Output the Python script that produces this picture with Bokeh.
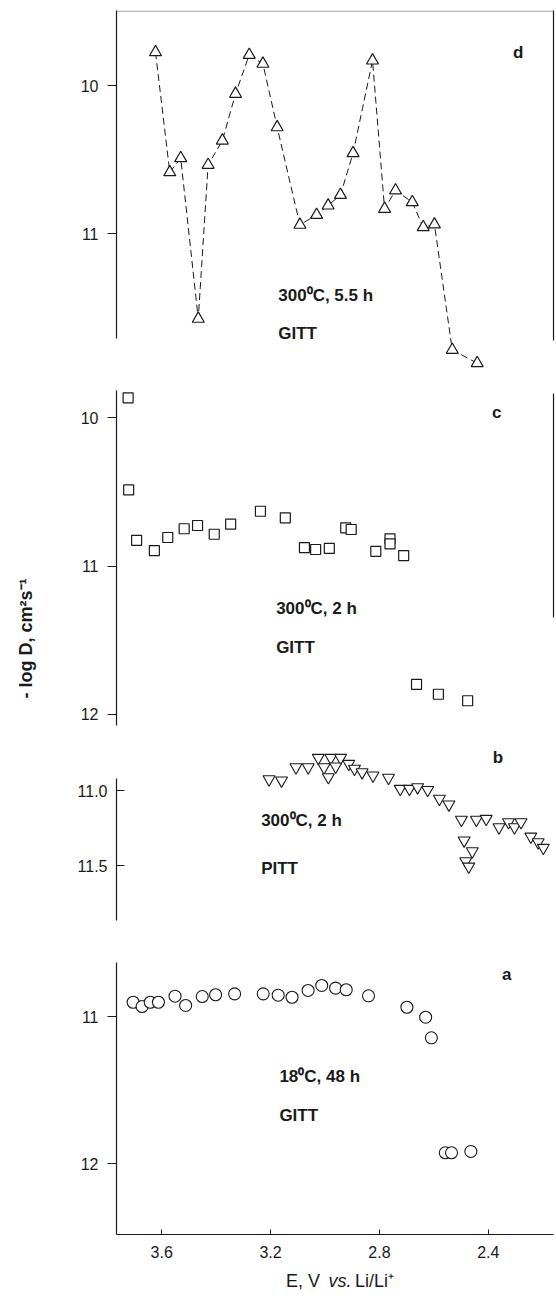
from bokeh.plotting import figure
from bokeh.layouts import column, row
from bokeh.models import Range1d, FixedTicker, LinearAxis, Label, Span
from bokeh.embed import file_html
from bokeh.resources import INLINE
import math

# ---------------- data ----------------
x_ticks = [3.6, 3.2, 2.8, 2.4]
x_tick_labels = ["3.6", "3.2", "2.8", "2.4"]

# panel d : 300 C, 5.5 h, GITT
d_E = [3.597, 3.545, 3.505, 3.441, 3.405, 3.353, 3.305, 3.255, 3.205, 3.153, 3.070, 3.009,
       2.967, 2.922, 2.876, 2.805, 2.761, 2.721, 2.660, 2.620, 2.579, 2.514, 2.423]
d_logD = [9.775, 10.586, 10.491, 11.576, 10.536, 10.372, 10.056, 9.793, 9.853, 10.282, 10.941, 10.874,
          10.811, 10.739, 10.457, 9.831, 10.833, 10.709, 10.788, 10.957, 10.939, 11.786, 11.876]
d_ticks = [10, 11]
d_tick_labels = ["10", "11"]

# panel c : 300 C, 2 h, GITT
c_E = [3.709, 3.707, 3.678, 3.613, 3.564, 3.504, 3.455, 3.394, 3.334, 3.225, 3.134, 3.064,
       3.023, 2.973, 2.913, 2.893, 2.803, 2.751, 2.751, 2.701, 2.654, 2.574, 2.467]
c_logD = [9.865, 10.486, 10.827, 10.895, 10.807, 10.748, 10.726, 10.785, 10.717, 10.630, 10.674, 10.875,
          10.888, 10.881, 10.742, 10.753, 10.900, 10.816, 10.850, 10.929, 11.798, 11.864, 11.908]
c_ticks = [10, 11, 12]
c_tick_labels = ["10", "11", "12"]

# panel b : 300 C, 2 h, PITT
b_E = [3.203, 3.157, 3.104, 3.059, 3.022, 2.976, 2.940, 3.001, 2.958, 2.985, 2.910, 2.889,
       2.861, 2.821, 2.764, 2.721, 2.687, 2.657, 2.620, 2.577, 2.542, 2.496, 2.441, 2.405,
       2.358, 2.323, 2.301, 2.277, 2.241, 2.214, 2.195, 2.486, 2.456, 2.480, 2.469]
b_logD = [10.925, 10.933, 10.845, 10.845, 10.782, 10.782, 10.782, 10.845, 10.840, 10.911, 10.822, 10.855,
          10.878, 10.900, 10.915, 10.989, 10.989, 10.978, 10.996, 11.055, 11.093, 11.195, 11.195, 11.189,
          11.245, 11.211, 11.245, 11.211, 11.307, 11.345, 11.382, 11.333, 11.405, 11.471, 11.507]
b_ticks = [11.0, 11.5]
b_tick_labels = ["11.0", "11.5"]

# panel a : 18 C, 48 h, GITT
a_E = [3.705, 3.672, 3.642, 3.612, 3.551, 3.512, 3.451, 3.402, 3.332, 3.227, 3.172, 3.121,
       3.062, 3.012, 2.961, 2.922, 2.840, 2.699, 2.630, 2.609, 2.558, 2.535, 2.464]
a_logD = [10.903, 10.932, 10.903, 10.903, 10.862, 10.925, 10.864, 10.852, 10.846, 10.846, 10.855, 10.869,
          10.823, 10.789, 10.807, 10.818, 10.859, 10.937, 11.005, 11.145, 11.927, 11.927, 11.918]
a_ticks = [11, 12]
a_tick_labels = ["11", "12"]

# ---------------- styling ----------------
FONT = "Liberation Sans"
INK = "#1a1a1a"
PX_PER_V = 274.0
TITLE_W = 48
PANEL_W = 508
TOTAL_W = TITLE_W + PANEL_W
MBL = 68


def make_fig(height, x_left, mbr, mbt, mbb, y_bottom, y_top, with_x=False):
    frame_w = PANEL_W - MBL - mbr
    p = figure(width=PANEL_W, height=height, output_backend="svg", toolbar_location=None,
               x_range=Range1d(x_left, x_left - frame_w / PX_PER_V),
               y_range=Range1d(y_bottom, y_top),
               x_axis_location="below" if with_x else None,
               min_border_left=MBL, min_border_right=mbr,
               min_border_top=mbt, min_border_bottom=mbb)
    p.outline_line_color = None
    p.grid.visible = False
    p.background_fill_color = "white"
    p.border_fill_color = "white"
    return p


def style_yaxis(ax, ticks, labels, bounds, inside=False):
    ax.ticker = FixedTicker(ticks=ticks)
    ax.major_label_overrides = {t: l for t, l in zip(ticks, labels)}
    ax.bounds = bounds
    ax.axis_line_color = INK
    ax.axis_line_width = 1.2
    ax.major_tick_line_color = INK
    ax.major_tick_line_width = 1
    if inside:
        ax.major_tick_in = 8
        ax.major_tick_out = 0
    else:
        ax.major_tick_in = 0
        ax.major_tick_out = 9
    ax.minor_tick_line_color = None
    ax.major_label_standoff = 9
    ax.major_label_text_font = FONT
    ax.major_label_text_font_size = "16px"
    ax.major_label_text_color = INK


def border_axis(p, bounds):
    ax = LinearAxis(ticker=FixedTicker(ticks=[]), bounds=bounds, axis_label=None)
    ax.axis_line_color = INK
    ax.axis_line_width = 1.2
    ax.major_tick_in = 0
    ax.major_tick_out = 0
    ax.minor_tick_in = 0
    ax.minor_tick_out = 0
    ax.major_label_standoff = 0
    ax.axis_label_standoff = 0
    ax.major_label_text_font_size = "0px"
    p.add_layout(ax, "right")


def add_text(p, x, y, text, size="17px", align="left", style="bold"):
    p.add_layout(Label(x=x, y=y, text=text, text_font=FONT, text_font_size=size,
                       text_font_style=style, text_color=INK, text_align=align,
                       text_baseline="middle"))


def helper_fig(width, height):
    p = figure(width=width, height=height, output_backend="svg", toolbar_location=None,
               x_range=Range1d(0, width), y_range=Range1d(height, 0),
               x_axis_location=None, y_axis_location=None,
               min_border_left=0, min_border_right=0, min_border_top=0, min_border_bottom=0)
    p.outline_line_color = None
    p.grid.visible = False
    return p


# ---------------- panel d ----------------
pd_ = make_fig(372, 3.7394, 3, 10, 0, 11.939, 9.493)
style_yaxis(pd_.yaxis[0], d_ticks, d_tick_labels, (9.493, 11.709))
border_axis(pd_, (9.493, 11.723))
pd_.add_layout(Span(location=9.497, dimension="width", line_color="#888888", line_width=1))
pd_.line(d_E, d_logD, line_color=INK, line_width=1, line_dash="7 4")
pd_.scatter(d_E, d_logD, marker="triangle", size=12, fill_color="white",
            line_color=INK, line_width=1.2)
add_text(pd_, 3.149, 11.419, "300⁰C, 5.5 h")
add_text(pd_, 3.149, 11.676, "GITT")
add_text(pd_, 2.273, 9.777, "d", align="center")

# ---------------- panel c ----------------
pc_ = make_fig(356, 3.7515, 2, 13, 0, 12.095, 9.782)
style_yaxis(pc_.yaxis[0], c_ticks, c_tick_labels, (9.816, 12.075))
border_axis(pc_, (9.836, 11.347))
pc_.scatter(c_E, c_logD, marker="square", size=10, fill_color="white",
            line_color=INK, line_width=1.2)
add_text(pc_, 3.1675, 11.286, "300⁰C, 2 h")
add_text(pc_, 3.1675, 11.547, "GITT")
add_text(pc_, 2.361, 9.962, "c", align="center")

# ---------------- panel b ----------------
pb_ = make_fig(197, 3.7635, 0, 17, 0, 11.9, 10.70)
style_yaxis(pb_.yaxis[0], b_ticks, b_tick_labels, (10.92, 11.867), inside=True)
pb_.scatter(b_E, b_logD, marker="inverted_triangle", size=12, fill_color="white",
            line_color=INK, line_width=1.1)
add_text(pb_, 3.232, 11.2, "300⁰C, 2 h")
add_text(pb_, 3.232, 11.52, "PITT")
add_text(pb_, 2.362, 10.778, "b", align="center")

# ---------------- panel a ----------------
pa_ = make_fig(341, 3.7661, 0, 33, 32, 12.483, 10.6054, with_x=True)
style_yaxis(pa_.yaxis[0], a_ticks, a_tick_labels, (10.630, 12.483))
xa = pa_.xaxis[0]
xa.ticker = FixedTicker(ticks=x_ticks)
xa.major_label_overrides = {t: l for t, l in zip(x_ticks, x_tick_labels)}
xa.axis_line_color = INK
xa.axis_line_width = 1.2
xa.major_tick_line_color = INK
xa.major_tick_in = 5
xa.major_tick_out = 0
xa.minor_tick_line_color = None
xa.major_label_standoff = 11
xa.major_label_text_font = FONT
xa.major_label_text_font_size = "16px"
xa.major_label_text_color = INK
pa_.scatter(a_E, a_logD, marker="circle", size=12, fill_color="white",
            line_color=INK, line_width=1.1)
add_text(pa_, 3.1675, 11.408, "18⁰C, 48 h")
add_text(pa_, 3.1675, 11.673, "GITT")
add_text(pa_, 2.332, 10.714, "a", align="center")

# ---------------- axis titles ----------------
panels_h = 372 + 356 + 197 + 341
yt = helper_fig(TITLE_W, panels_h)
yt.add_layout(Label(x=25, y=638, text="- log D, cm²s⁻¹", angle=math.pi / 2,
                    text_font=FONT, text_font_size="18px", text_font_style="bold",
                    text_color=INK, text_align="center", text_baseline="middle"))

xt = helper_fig(TOTAL_W, 24)
add_text(xt, 285.5, 14, "E,  V", size="18px", style="normal")
add_text(xt, 328, 14, "vs.", size="18px", style="italic")
add_text(xt, 354.5, 14, "Li/Li⁺", size="18px", style="normal")

layout = column(row(yt, column(pd_, pc_, pb_, pa_)), xt)
open("out.html", "w").write(file_html(layout, INLINE))
